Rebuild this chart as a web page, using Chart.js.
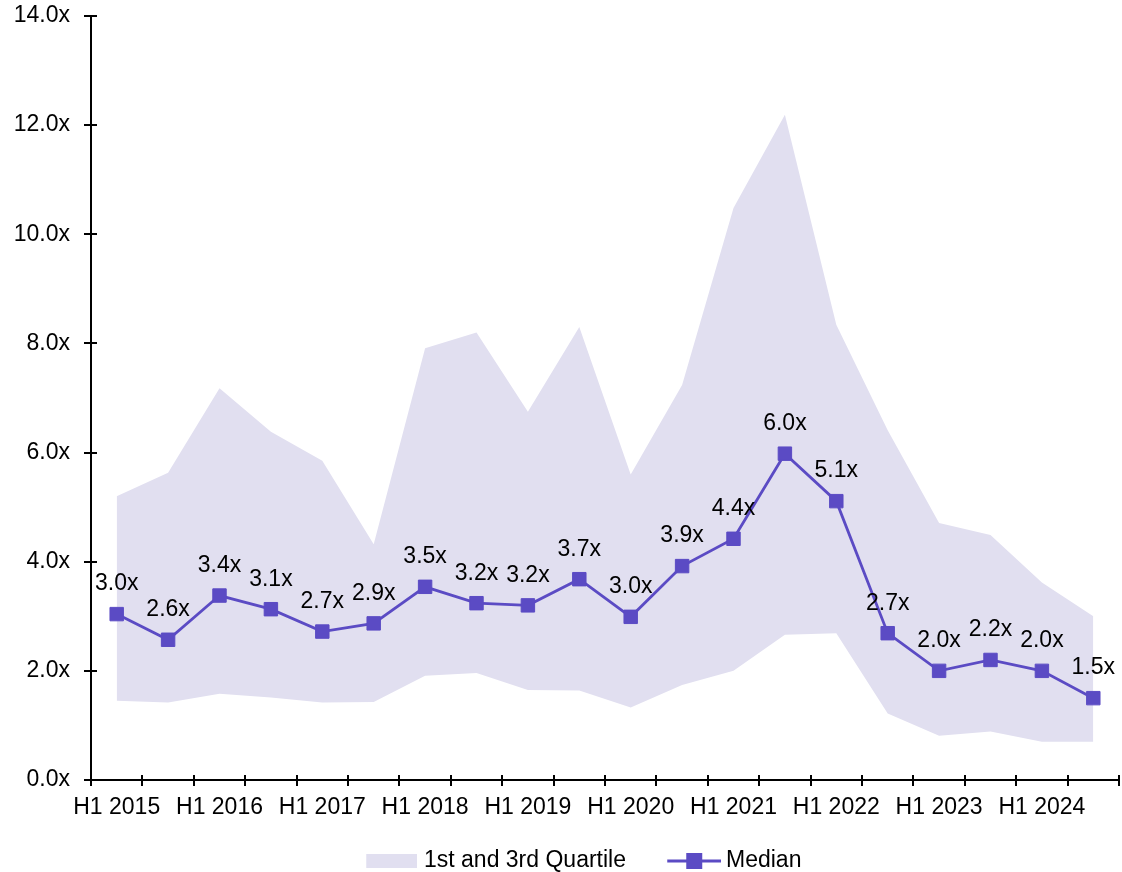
<!DOCTYPE html>
<html>
<head>
<meta charset="utf-8">
<script src="https://cdn.jsdelivr.net/npm/chart.js@4.4.1/dist/chart.umd.min.js"></script>
<style>
  html, body { margin: 0; padding: 0; background: #fff; }
  #wrap { width: 1122px; height: 872px; position: relative; }
</style>
</head>
<body>
<div id="wrap"><canvas id="multipleChart"></canvas></div>
<script>
// ======================
// DATA
// ======================

const categories = [
  "H1 2015", "H2 2015", "H1 2016", "H2 2016", "H1 2017", "H2 2017",
  "H1 2018", "H2 2018", "H1 2019", "H2 2019", "H1 2020", "H2 2020",
  "H1 2021", "H2 2021", "H1 2022", "H2 2022", "H1 2023", "H2 2023",
  "H1 2024", "H2 2024"
];

const upperQuartile = [
  5.2, 5.63, 7.18, 6.38, 5.85, 4.32, 7.91, 8.2, 6.75, 8.3,
  5.6, 7.24, 10.48, 12.19, 8.34, 6.41, 4.71, 4.49, 3.62, 3.0
];

const lowerQuartile = [
  1.45, 1.42, 1.58, 1.51, 1.42, 1.43, 1.91, 1.96, 1.65, 1.64,
  1.33, 1.74, 2.0, 2.66, 2.69, 1.22, 0.81, 0.89, 0.7, 0.7
];

const median = [
  3.04, 2.57, 3.38, 3.13, 2.72, 2.87, 3.54, 3.24, 3.2, 3.68,
  2.99, 3.92, 4.42, 5.98, 5.11, 2.69, 2.0, 2.2, 2.0, 1.5
];

const yTicks = { min: 0, max: 14, step: 2 };

// ======================
// STYLE
// ======================

const FONT = '"Liberation Sans", Arial, sans-serif';
const BAND = "#E1DFF0";
const LINE = "#5B4BC4";

Chart.defaults.font.family = FONT;
Chart.defaults.font.size = 23;
Chart.defaults.color = "#000";

// ======================
// LEGEND SWATCHES
// ======================

// the legend draws each image centred on its box, so the visible
// part sits at the right end of a wider transparent canvas
function makeSwatch(w, h, paint) {
  const c = document.createElement("canvas");
  c.width = w;
  c.height = h;
  paint(c.getContext("2d"), w, h);
  return c;
}

const quartileSwatch = makeSwatch(93, 14, (g, w, h) => {
  g.fillStyle = BAND;
  g.fillRect(w - 51, 0, 51, h);
});

const medianSwatch = makeSwatch(97, 16, (g, w, h) => {
  const x0 = w - 54;
  g.strokeStyle = LINE;
  g.lineWidth = 3;
  g.beginPath();
  g.moveTo(x0, h / 2);
  g.lineTo(w, h / 2);
  g.stroke();
  g.fillStyle = LINE;
  g.fillRect(x0 + 27 - 8, 0, 16, 16);
});

// ======================
// PLUGINS
// ======================

// value labels above the median markers
const medianLabels = {
  id: "medianLabels",
  afterDatasetsDraw(chart) {
    const meta = chart.getDatasetMeta(2);
    const ctx = chart.ctx;
    ctx.save();
    ctx.font = "23px " + FONT;
    ctx.fillStyle = "#000";
    ctx.textAlign = "center";
    ctx.textBaseline = "middle";
    meta.data.forEach((pt, i) => {
      ctx.fillText(median[i].toFixed(1) + "x", pt.x, pt.y - 30);
    });
    ctx.restore();
  }
};

// tick marks that cross the axis lines
const crossTicks = {
  id: "crossTicks",
  afterDraw(chart) {
    const { ctx, scales: { x, y } } = chart;
    ctx.save();
    ctx.strokeStyle = "#000";
    ctx.lineWidth = 2;
    ctx.beginPath();
    for (let i = 0; i <= categories.length; i++) {
      const px = Math.round(x.getPixelForValue(i - 0.5));
      ctx.moveTo(px, y.bottom - 5);
      ctx.lineTo(px, y.bottom + 6);
    }
    y.ticks.forEach(t => {
      const py = Math.round(y.getPixelForValue(t.value));
      ctx.moveTo(x.left - 7, py);
      ctx.lineTo(x.left + 6, py);
    });
    ctx.stroke();
    ctx.restore();
  }
};

// ======================
// CHART
// ======================

const ctx = document.getElementById("multipleChart").getContext("2d");

new Chart(ctx, {
  type: "line",
  data: {
    labels: categories,
    datasets: [
      {
        label: "1st and 3rd Quartile",
        data: upperQuartile,
        fill: "+1",
        backgroundColor: BAND,
        borderColor: "rgba(0,0,0,0)",
        borderWidth: 0,
        pointRadius: 0,
        tension: 0,
        order: 1
      },
      {
        label: "Lower",
        data: lowerQuartile,
        fill: false,
        borderColor: "rgba(0,0,0,0)",
        borderWidth: 0,
        pointRadius: 0,
        tension: 0,
        order: 2
      },
      {
        label: "Median",
        data: median,
        fill: false,
        borderColor: LINE,
        backgroundColor: LINE,
        borderWidth: 2.8,
        pointStyle: "rect",
        pointRadius: 9.5,
        pointBorderWidth: 1,
        pointBorderColor: LINE,
        pointBackgroundColor: LINE,
        tension: 0,
        order: 0
      }
    ]
  },
  options: {
    responsive: true,
    maintainAspectRatio: false,
    animation: false,
    events: [],
    layout: {
      autoPadding: false,
      padding: { left: 11.4, right: 3, top: 16, bottom: 0 }
    },
    plugins: {
      tooltip: { enabled: false },
      legend: {
        position: "bottom",
        maxHeight: 27.5,
        labels: {
          usePointStyle: true,
          pointStyleWidth: 83.5,
          padding: 5,
          color: "#000",
          font: { size: 23 },
          generateLabels: () => [
            {
              text: "1st and 3rd Quartile",
              pointStyle: quartileSwatch,
              fillStyle: BAND,
              strokeStyle: BAND,
              lineWidth: 0,
              hidden: false,
              datasetIndex: 0
            },
            {
              text: "Median",
              pointStyle: medianSwatch,
              fillStyle: LINE,
              strokeStyle: LINE,
              lineWidth: 0,
              hidden: false,
              datasetIndex: 2
            }
          ]
        }
      }
    },
    scales: {
      x: {
        offset: true,
        grid: { display: false, drawTicks: true, tickLength: 14, offset: true },
        border: { display: true, color: "#000", width: 2 },
        ticks: {
          autoSkip: false,
          maxRotation: 0,
          padding: 0,
          color: "#000",
          callback: (v, i) => (i % 2 === 0 ? categories[i] : "")
        },
        afterFit: s => { s.height = 64.5; }
      },
      y: {
        min: yTicks.min,
        max: yTicks.max,
        grid: { display: false, drawTicks: true, tickLength: 21 },
        border: { display: true, color: "#000", width: 2 },
        ticks: {
          stepSize: yTicks.step,
          padding: 0,
          color: "#000",
          callback: v => v.toFixed(1) + "x"
        },
        afterFit: s => { s.width = 79.6; }
      }
    }
  },
  plugins: [medianLabels, crossTicks]
});
</script>
</body>
</html>
